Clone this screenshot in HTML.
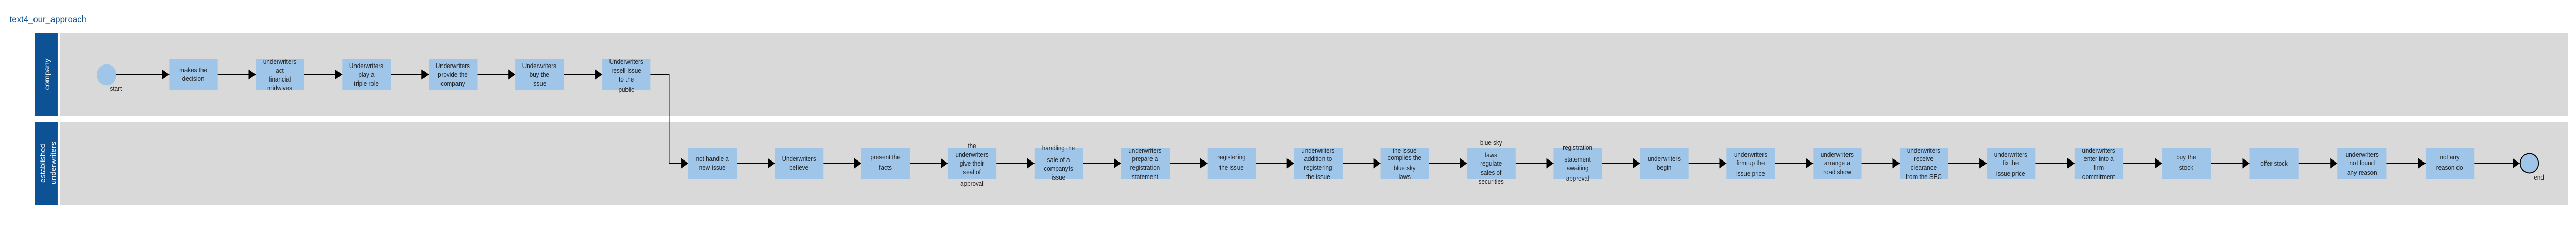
<!DOCTYPE html>
<html><head><meta charset="utf-8"><style>
html,body{margin:0;padding:0;background:#fff;width:100%;height:438px;overflow:hidden;}
svg{display:block;width:100%;height:438px;font-family:"Liberation Sans",Arial,sans-serif;}
.b{fill:#9fc5e8;}
.t{font-size:12.5px;fill:#222;text-anchor:middle;}
.l{stroke:#000;stroke-width:1.5;fill:none;}
</style></head><body>
<svg viewBox="0 0 5359 438" preserveAspectRatio="none" xmlns="http://www.w3.org/2000/svg">
<defs>
<marker id="a" markerWidth="15" markerHeight="20" refX="15" refY="10" orient="auto" markerUnits="userSpaceOnUse"><path d="M0,0 L15,10 L0,20 Z" fill="#000"/></marker>
</defs>
<text x="20" y="43" font-size="18" fill="#0d5294">text4_our_approach</text>
<rect x="72" y="64" width="48" height="161" fill="#0d5294"/>
<rect x="125" y="64" width="5217" height="161" fill="#d9d9d9"/>
<rect x="72" y="236" width="48" height="161" fill="#0d5294"/>
<rect x="125" y="236" width="5217" height="161" fill="#d9d9d9"/>
<text transform="translate(103,144) rotate(-90)" font-size="15" fill="#fff" text-anchor="middle">company</text>
<text transform="translate(94,316) rotate(-90)" font-size="15" fill="#fff" text-anchor="middle">established</text>
<text transform="translate(116,316) rotate(-90)" font-size="15" fill="#fff" text-anchor="middle">underwriters</text>

<circle cx="222" cy="145" r="20.5" class="b"/>
<text x="241" y="176" class="t" font-size="11">start</text>
<path class="l" marker-end="url(#a)" d="M242,144.5 H352"/>
<path class="l" marker-end="url(#a)" d="M453,144.5 H532"/>
<path class="l" marker-end="url(#a)" d="M633,144.5 H712"/>
<path class="l" marker-end="url(#a)" d="M813,144.5 H892"/>
<path class="l" marker-end="url(#a)" d="M993,144.5 H1072"/>
<path class="l" marker-end="url(#a)" d="M1173,144.5 H1253"/>
<path class="l" marker-end="url(#a)" d="M1353,144.5 H1392 V316.5 H1432"/>

<rect class="b" x="352" y="114" width="101" height="61"/>
<text class="t"><tspan x="402" y="140">makes the</tspan><tspan x="402" y="157">decision</tspan></text>
<rect class="b" x="532" y="114" width="101" height="61"/>
<text class="t"><tspan x="582" y="124">underwriters</tspan><tspan x="582" y="141">act</tspan><tspan x="582" y="158">financial</tspan><tspan x="582" y="175">midwives</tspan></text>
<rect class="b" x="712" y="114" width="101" height="61"/>
<text class="t"><tspan x="762" y="132">Underwriters</tspan><tspan x="762" y="149">play a</tspan><tspan x="762" y="166">triple role</tspan></text>
<rect class="b" x="892" y="114" width="101" height="61"/>
<text class="t"><tspan x="942" y="132">Underwriters</tspan><tspan x="942" y="149">provide the</tspan><tspan x="942" y="166">company</tspan></text>
<rect class="b" x="1072" y="114" width="101" height="61"/>
<text class="t"><tspan x="1122" y="132">Underwriters</tspan><tspan x="1122" y="149">buy the</tspan><tspan x="1122" y="166">issue</tspan></text>
<rect class="b" x="1253" y="114" width="100" height="61"/>
<text class="t"><tspan x="1303" y="124">Underwriters</tspan><tspan x="1303" y="141">resell issue</tspan><tspan x="1303" y="158">to the</tspan><tspan x="1303" y="178">public</tspan></text>

<path class="l" marker-end="url(#a)" d="M1533,316.5 H1612"/>
<path class="l" marker-end="url(#a)" d="M1713,316.5 H1792"/>
<path class="l" marker-end="url(#a)" d="M1893,316.5 H1972"/>
<path class="l" marker-end="url(#a)" d="M2073,316.5 H2152"/>
<path class="l" marker-end="url(#a)" d="M2253,316.5 H2332"/>
<path class="l" marker-end="url(#a)" d="M2433,316.5 H2512"/>
<path class="l" marker-end="url(#a)" d="M2613,316.5 H2692"/>
<path class="l" marker-end="url(#a)" d="M2793,316.5 H2872"/>
<path class="l" marker-end="url(#a)" d="M2973,316.5 H3052"/>
<path class="l" marker-end="url(#a)" d="M3153,316.5 H3232"/>
<path class="l" marker-end="url(#a)" d="M3333,316.5 H3412"/>
<path class="l" marker-end="url(#a)" d="M3513,316.5 H3592"/>
<path class="l" marker-end="url(#a)" d="M3693,316.5 H3772"/>
<path class="l" marker-end="url(#a)" d="M3873,316.5 H3952"/>
<path class="l" marker-end="url(#a)" d="M4053,316.5 H4133"/>
<path class="l" marker-end="url(#a)" d="M4234,316.5 H4316"/>
<path class="l" marker-end="url(#a)" d="M4417,316.5 H4498"/>
<path class="l" marker-end="url(#a)" d="M4599,316.5 H4680"/>
<path class="l" marker-end="url(#a)" d="M4782,316.5 H4863"/>
<path class="l" marker-end="url(#a)" d="M4965,316.5 H5046"/>
<path class="l" marker-end="url(#a)" d="M5147,316.5 H5242"/>

<g>
<rect class="b" x="1432" y="286" width="101" height="61"/>
<text class="t"><tspan x="1482" y="312">not handle a</tspan><tspan x="1482" y="329">new issue</tspan></text>
<rect class="b" x="1612" y="286" width="101" height="61"/>
<text class="t"><tspan x="1662" y="312">Underwriters</tspan><tspan x="1662" y="329">believe</tspan></text>
<rect class="b" x="1792" y="286" width="101" height="61"/>
<text class="t"><tspan x="1842" y="309">present the</tspan><tspan x="1842" y="329">facts</tspan></text>
<rect class="b" x="1972" y="286" width="101" height="61"/>
<text class="t"><tspan x="2022" y="287">the</tspan><tspan x="2022" y="304">underwriters</tspan><tspan x="2022" y="321">give their</tspan><tspan x="2022" y="338">seal of</tspan><tspan x="2022" y="360">approval</tspan></text>
<rect class="b" x="2152" y="286" width="101" height="61"/>
<text class="t"><tspan x="2202" y="291">handling the</tspan><tspan x="2202" y="314">sale of a</tspan><tspan x="2202" y="331">companyís</tspan><tspan x="2202" y="348">issue</tspan></text>
<rect class="b" x="2332" y="286" width="101" height="61"/>
<text class="t"><tspan x="2382" y="296">underwriters</tspan><tspan x="2382" y="312">prepare a</tspan><tspan x="2382" y="329">registration</tspan><tspan x="2382" y="347">statement</tspan></text>
<rect class="b" x="2512" y="286" width="101" height="61"/>
<text class="t"><tspan x="2562" y="309">registering</tspan><tspan x="2562" y="329">the issue</tspan></text>
<rect class="b" x="2692" y="286" width="101" height="61"/>
<text class="t"><tspan x="2742" y="296">underwriters</tspan><tspan x="2742" y="312">addition to</tspan><tspan x="2742" y="329">registering</tspan><tspan x="2742" y="347">the issue</tspan></text>
<rect class="b" x="2872" y="286" width="101" height="61"/>
<text class="t"><tspan x="2922" y="296">the issue</tspan><tspan x="2922" y="310">complies the</tspan><tspan x="2922" y="330">blue sky</tspan><tspan x="2922" y="347">laws</tspan></text>
<rect class="b" x="3052" y="286" width="101" height="61"/>
<text class="t"><tspan x="3102" y="281">blue sky</tspan><tspan x="3102" y="305">laws</tspan><tspan x="3102" y="321">regulate</tspan><tspan x="3102" y="339">sales of</tspan><tspan x="3102" y="356">securities</tspan></text>
<rect class="b" x="3232" y="286" width="101" height="61"/>
<text class="t"><tspan x="3282" y="290">registration</tspan><tspan x="3282" y="313">statement</tspan><tspan x="3282" y="330">awaiting</tspan><tspan x="3282" y="350">approval</tspan></text>
<rect class="b" x="3412" y="286" width="101" height="61"/>
<text class="t"><tspan x="3462" y="312">underwriters</tspan><tspan x="3462" y="329">begin</tspan></text>
<rect class="b" x="3592" y="286" width="101" height="61"/>
<text class="t"><tspan x="3642" y="304">underwriters</tspan><tspan x="3642" y="320">firm up the</tspan><tspan x="3642" y="341">issue price</tspan></text>
<rect class="b" x="3772" y="286" width="101" height="61"/>
<text class="t"><tspan x="3822" y="304">underwriters</tspan><tspan x="3822" y="320">arrange a</tspan><tspan x="3822" y="338">road show</tspan></text>
<rect class="b" x="3952" y="286" width="101" height="61"/>
<text class="t"><tspan x="4002" y="296">underwriters</tspan><tspan x="4002" y="312">receive</tspan><tspan x="4002" y="329">clearance</tspan><tspan x="4002" y="347">from the SEC</tspan></text>
<rect class="b" x="4133" y="286" width="101" height="61"/>
<text class="t"><tspan x="4183" y="304">underwriters</tspan><tspan x="4183" y="320">fix the</tspan><tspan x="4183" y="341">issue price</tspan></text>
<rect class="b" x="4316" y="286" width="101" height="61"/>
<text class="t"><tspan x="4366" y="296">underwriters</tspan><tspan x="4366" y="312">enter into a</tspan><tspan x="4366" y="329">firm</tspan><tspan x="4366" y="347">commitment</tspan></text>
<rect class="b" x="4498" y="286" width="101" height="61"/>
<text class="t"><tspan x="4548" y="309">buy the</tspan><tspan x="4548" y="329">stock</tspan></text>
<rect class="b" x="4680" y="286" width="102" height="61"/>
<text class="t"><tspan x="4731" y="321">offer stock</tspan></text>
<rect class="b" x="4863" y="286" width="102" height="61"/>
<text class="t"><tspan x="4914" y="304">underwriters</tspan><tspan x="4914" y="320">not found</tspan><tspan x="4914" y="339">any reason</tspan></text>
<rect class="b" x="5046" y="286" width="101" height="61"/>
<text class="t"><tspan x="5096" y="309">not any</tspan><tspan x="5096" y="329">reason do</tspan></text>
</g>
<circle cx="5262" cy="316.5" r="19" fill="#9fc5e8" stroke="#000" stroke-width="2"/>
<text x="5282" y="348" class="t" font-size="11">end</text>
</svg>
</body></html>
